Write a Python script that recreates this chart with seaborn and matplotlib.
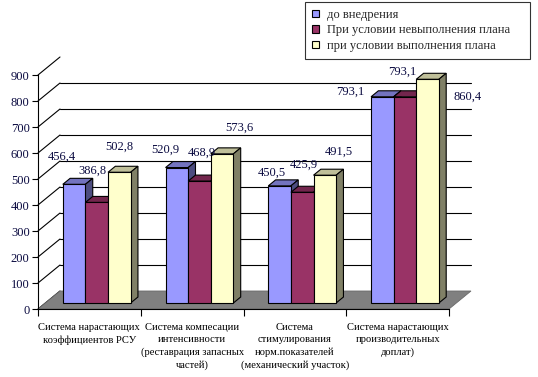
import numpy as np
import pandas as pd
import seaborn as sns
import matplotlib
matplotlib.use("Agg")
import matplotlib.pyplot as plt
from matplotlib.patches import Polygon
from matplotlib.lines import Line2D
from matplotlib.transforms import IdentityTransform, offset_copy

# ---------------- data ----------------
categories = [
    "Система нарастающих\nкоэффициентов РСУ",
    "Система компесации\nинтенсивности\n(реставрация запасных\nчастей)",
    "Система\nстимулирования\nнорм.показателей\n(механический участок)",
    "Система нарастающих\nпроизводительных\nдоплат)",
]
series = ["до внедрения", "При условии невыполнения плана", "при условии выполнения плана"]
before = [456.4, 520.9, 450.5, 793.1]
fail_plan = [386.8, 468.9, 425.9, 793.1]
meet_plan = [502.8, 573.6, 491.5, 860.4]
yticks = [0, 100, 200, 300, 400, 500, 600, 700, 800, 900]

# ---------------- style ----------------
front_colors = ["#9999FF", "#993366", "#FFFFCC"]
top_colors = ["#7373BF", "#73264D", "#BFBF99"]
side_colors = ["#4D4D80", "#4D1A33", "#808066"]
num_color = "#0a0a40"
# label nudges (px) relative to the top of each bar's front face, per series x category
label_dx = [[-12, -12, -8, -32], [-4, 2, 2, -3], [0, 17, 14, 40]]
label_dy = [[28, 18, 13, 5], [32, 28, 28, 25], [26, 26, 23, -17]]
DX, DY = 22.0, 18.0  # depth offset of the back wall in pixels

sns.set_theme(style="white")
plt.rcParams["font.family"] = ["Liberation Serif", "DejaVu Serif"]

fig = plt.figure(figsize=(5.38, 3.77), dpi=100)
W, H = 538, 377
ax = fig.add_axes([38 / W, 1 - 309 / H, 411 / W, 234 / H])
ax.set_facecolor("none")

values = [before, fail_plan, meet_plan]
df = pd.DataFrame({
    "cat": [c for s in series for c in categories],
    "series": [s for s in series for c in categories],
    "value": [v for vals in values for v in vals],
})

sns.barplot(data=df, x="cat", y="value", hue="series", order=categories,
            hue_order=series, palette=front_colors, saturation=1,
            width=0.66, gap=0, edgecolor="black", linewidth=0.8,
            errorbar=None, ax=ax)
handles, labels = ax.get_legend_handles_labels()
if ax.get_legend() is not None:
    ax.get_legend().remove()

ax.set_xlim(-0.5, 3.5)
ax.set_ylim(0, 900)
ax.set_xlabel("")
ax.set_ylabel("")
ax.set_yticks(yticks)
ax.set_yticklabels([str(t) for t in yticks], fontsize=9, color=num_color)
ax.tick_params(axis="y", which="major", direction="out", length=4, width=0.8,
               color="black", pad=2, left=True)
ax.set_xticks(range(len(categories)))
ax.set_xticklabels(categories, fontsize=7.6, color="black", linespacing=1.45, va="top")
ax.set_xticks([-0.5, 0.5, 1.5, 2.5, 3.5], minor=True)
ax.tick_params(axis="x", which="major", length=0, pad=10)
ax.tick_params(axis="x", which="minor", direction="out", length=5, width=0.8,
               color="black", bottom=True)
for side in ["top", "right"]:
    ax.spines[side].set_visible(False)
for side in ["left", "bottom"]:
    ax.spines[side].set_color("black")
    ax.spines[side].set_linewidth(0.8)
ax.grid(False)

ident = IdentityTransform()


def disp(x, y, k):
    p = ax.transData.transform((x, y))
    return (p[0] + k * DX, p[1] + k * DY)


x_lo, x_hi = ax.get_xlim()
# back wall gridlines
for v in yticks[1:-1]:
    a, b = disp(x_lo, v, 1), disp(x_hi, v, 1)
    ax.add_artist(Line2D([a[0], b[0]], [a[1], b[1]], transform=ident,
                         color="black", lw=0.8, zorder=0.5, clip_on=False))
# left wall diagonals
for v in yticks:
    a, b = disp(x_lo, v, 0), disp(x_lo, v, 1)
    ax.add_artist(Line2D([a[0], b[0]], [a[1], b[1]], transform=ident,
                         color="black", lw=0.8, zorder=0.5, clip_on=False))
# floor
floor = Polygon([disp(x_lo, 0, 0), disp(x_hi, 0, 0), disp(x_hi, 0, 1), disp(x_lo, 0, 1)],
                closed=True, transform=ident, facecolor="#808080",
                edgecolor="#6a6a6a", lw=0.6, zorder=0.6, clip_on=False)
ax.add_artist(floor)

front_shift = offset_copy(ax.transData, x=DX / 3, y=DY / 3, units="dots")
for si, cont in enumerate(ax.containers):
    for ci, bar in enumerate(cont):
        order = ci * 3 + si
        x0 = bar.get_x()
        w = bar.get_width()
        h = bar.get_height()
        x1 = x0 + w
        bar.set_transform(front_shift)
        bar.set_zorder(3 + order)
        bar.set_clip_on(False)
        top = Polygon([disp(x0, h, 1 / 3), disp(x1, h, 1 / 3), disp(x1, h, 2 / 3), disp(x0, h, 2 / 3)],
                      closed=True, transform=ident, facecolor=top_colors[si],
                      edgecolor="black", lw=0.8, zorder=3 + order - 0.5, clip_on=False)
        side = Polygon([disp(x1, 0, 1 / 3), disp(x1, h, 1 / 3), disp(x1, h, 2 / 3), disp(x1, 0, 2 / 3)],
                       closed=True, transform=ident, facecolor=side_colors[si],
                       edgecolor="black", lw=0.8, zorder=3 + order - 0.5, clip_on=False)
        ax.add_artist(top)
        ax.add_artist(side)
        cx, cy = disp(x0 + w / 2, h, 1 / 3)
        ax.text(cx + label_dx[si][ci], cy + label_dy[si][ci],
                f"{h:.1f}".replace(".", ","), transform=ident,
                ha="center", va="center", fontsize=9, color=num_color, zorder=40)

leg = ax.legend(handles, labels, loc="upper left",
                bbox_to_anchor=(305 / W, 1 - 61 / H, 225 / W, 59 / H),
                bbox_transform=fig.transFigure, mode="expand",
                frameon=True, fancybox=False, edgecolor="black", facecolor="white",
                fontsize=9, borderpad=0.55, handlelength=0.6, handleheight=0.6,
                handletextpad=0.6, labelspacing=0.28, borderaxespad=0)
leg.get_frame().set_linewidth(0.8)
leg.set_zorder(50)
for hnd in leg.legend_handles:
    hnd.set_edgecolor("black")
    hnd.set_linewidth(0.8)

fig.savefig("out.png", dpi=100)
